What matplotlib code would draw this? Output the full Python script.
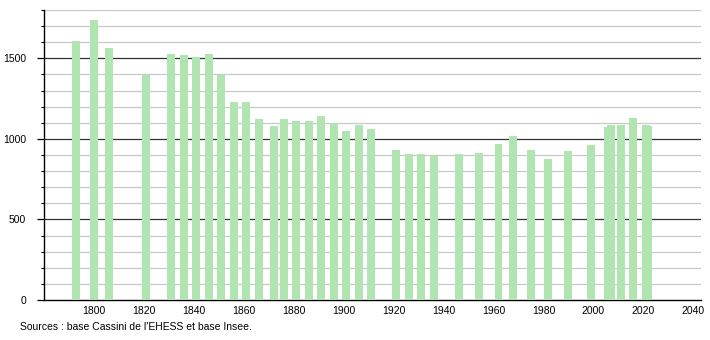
import matplotlib.pyplot as plt
from matplotlib.ticker import MultipleLocator

plt.rcParams['font.family'] = ['Liberation Sans', 'DejaVu Sans']

# census years and population
years = [1793, 1800, 1806, 1821, 1831, 1836, 1841, 1846, 1851, 1856,
         1861, 1866, 1872, 1876, 1881, 1886, 1891, 1896, 1901, 1906,
         1911, 1921, 1926, 1931, 1936, 1946, 1954, 1962, 1968, 1975,
         1982, 1990, 1999, 2006, 2007, 2011, 2016, 2021, 2022]
population = [1607, 1736, 1562, 1396, 1525, 1521, 1508, 1525, 1396, 1230,
              1230, 1125, 1077, 1123, 1108, 1108, 1139, 1097, 1052, 1089,
              1064, 934, 909, 909, 892, 909, 915, 971, 1021, 934,
              878, 927, 965, 1071, 1089, 1089, 1127, 1089, 1077]
xticks = list(range(1800, 2041, 20))
source_text = "Sources : base Cassini de l'EHESS et base Insee."

fig = plt.figure(figsize=(7.1, 3.4), dpi=100)
ax = fig.add_axes([0.062, 0.1176, 0.925, 0.853])

ax.bar(years, population, width=3.2, color='#b0e4b0', zorder=3)

ax.set_xlim(1780, 2043)
ax.set_ylim(0, 1800)

# grid: light every 100, dark every 500
for v in range(100, 1801, 100):
    if v % 500 == 0:
        ax.axhline(v, color='#333333', lw=0.9, zorder=1)
    else:
        ax.axhline(v, color='#c8c8c8', lw=0.9, zorder=1)

ax.set_xticks(xticks)
ax.set_xticklabels([str(t) for t in xticks], fontsize=7.5)
ax.tick_params(axis='x', length=0, pad=4)
ax.yaxis.set_major_locator(MultipleLocator(500))
ax.yaxis.set_minor_locator(MultipleLocator(100))
ax.tick_params(axis='y', which='major', length=5, width=0.9, labelsize=7.5, pad=8)
ax.tick_params(axis='y', which='minor', length=2.5, width=0.8)

for s in ['top', 'right']:
    ax.spines[s].set_visible(False)
ax.spines['left'].set_linewidth(1.0)
ax.spines['bottom'].set_linewidth(1.0)

fig.text(20 / 710, 1 - 327 / 340, source_text, fontsize=7.5, va='center', ha='left')

fig.savefig('out.png', dpi=100)
